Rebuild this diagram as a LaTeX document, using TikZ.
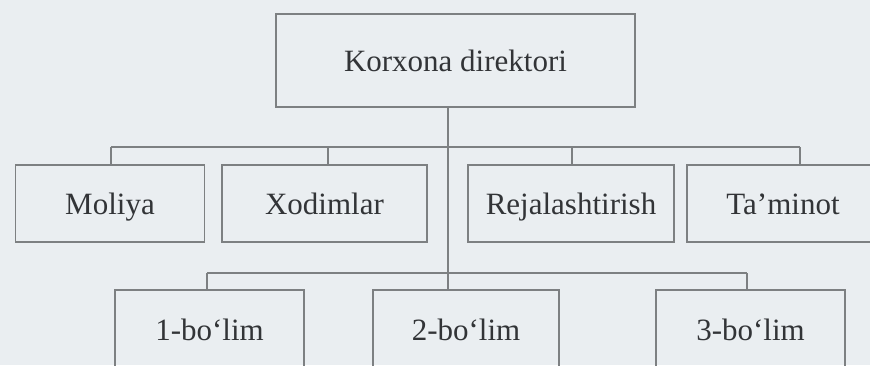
\documentclass[tikz,border=0pt]{standalone}
\usepackage{fontspec}
\setmainfont{Liberation Serif}
\definecolor{bg}{RGB}{234,238,241}
\definecolor{ln}{RGB}{125,128,130}
\definecolor{tx}{RGB}{50,52,55}
\begin{document}
\begin{tikzpicture}[x=1pt,y=-1pt,
  box/.style={draw=ln,line width=1.2pt,inner sep=0pt,text=tx,
    font=\fontsize{31}{36}\selectfont,text height=25pt,text depth=4pt},
  link/.style={draw=ln,line width=1.1pt}]
\fill[bg] (0,0) rectangle (870,365);
\useasboundingbox (0,0) rectangle (870,365);
% top
\node[box,minimum width=359pt,minimum height=93pt] (dir) at (455.5,60.5) {Korxona direktori};
% row 2
\node[box,minimum width=189pt,minimum height=77pt] (mol) at (110,203.5) {Moliya};
\node[box,minimum width=205pt,minimum height=77pt] (xod) at (324.5,203.5) {Xodimlar};
\node[box,minimum width=206pt,minimum height=77pt] (rej) at (571,203.5) {Rejalashtirish};
\node[box,minimum width=200pt,minimum height=77pt] (tam) at (787,203.5) {\hspace{-8pt}Ta’minot};
% row 3 (boxes run past the lower edge)
\node[box,minimum width=189pt,minimum height=79pt] (b1) at (209.5,329.5) {1-bo‘lim};
\node[box,minimum width=186pt,minimum height=79pt] (b2) at (466,329.5) {2-bo‘lim};
\node[box,minimum width=189pt,minimum height=79pt] (b3) at (750.5,329.5) {3-bo‘lim};
% coordinates
\coordinate (h1) at (111,147);
\coordinate (h2) at (328,147);
\coordinate (h3) at (572,147);
\coordinate (h4) at (800,147);
\coordinate (hc) at (448,147);
\coordinate (g1) at (207,273);
\coordinate (g3) at (747,273);
% connectors
\draw[link] (dir.south -| hc) -- (hc);
\draw[link] (h1) -- (h4);
\draw[link] (h1) -- (h1 |- mol.north);
\draw[link] (h2) -- (h2 |- xod.north);
\draw[link] (h3) -- (h3 |- rej.north);
\draw[link] (h4) -- (h4 |- tam.north);
\draw[link] (hc) -- (hc |- b2.north);
\draw[link] (g1) -- (g3);
\draw[link] (g1) -- (g1 |- b1.north);
\draw[link] (g3) -- (g3 |- b3.north);
\end{tikzpicture}
\end{document}
